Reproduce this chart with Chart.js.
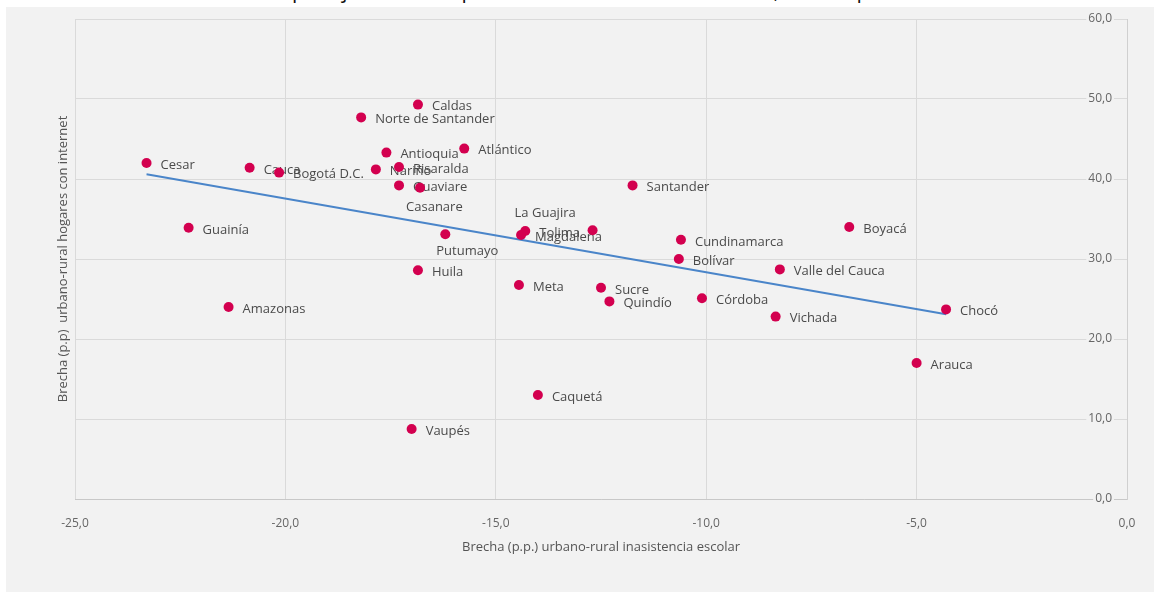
<!DOCTYPE html>
<html>
<head>
<meta charset="utf-8">
<script src="https://cdn.jsdelivr.net/npm/chart.js@4"></script>
<style>
  html, body { margin: 0; padding: 0; background: #fff; }
  #wrap { position: relative; width: 1154px; height: 592px; overflow: hidden; }
  #cut { position: absolute; left: 0; top: 0; width: 1154px; height: 7px; overflow: hidden; }
  #cut span { position: absolute; left: 14px; top: -24px; font: 21px "Open Sans", sans-serif; color: #111; white-space: nowrap; }
  canvas { position: absolute; left: 0; top: 0; }
</style>
</head>
<body>
<div id="wrap">
  <div id="cut"><span>estos indicadores se usaron para justificar en particular la inasistencia escolar, con lo que</span></div>
  <canvas id="chart" width="1154" height="592"></canvas>
</div>
<script>
// departamentos y sus brechas
const departamentos = [
  'Cesar', 'Cauca', 'Bogotá D.C.', 'Caldas', 'Norte de Santander', 'Antioquia',
  'Atlántico', 'Nariño', 'Risaralda', 'Guaviare', 'Casanare', 'Putumayo',
  'Huila', 'Guainía', 'Amazonas', 'La Guajira', 'Tolima', 'Magdalena',
  'Meta', 'Sucre', 'Quindío', 'Caquetá', 'Vaupés', 'Santander',
  'Cundinamarca', 'Bolívar', 'Córdoba', 'Valle del Cauca', 'Vichada', 'Boyacá',
  'Chocó', 'Arauca'
];
const inasistencia = [
  -23.3, -20.85, -20.15, -16.85, -18.2, -17.6,
  -15.75, -17.85, -17.3, -17.3, -16.8, -16.2,
  -16.85, -22.3, -21.35, -12.7, -14.3, -14.4,
  -14.45, -12.5, -12.3, -14.0, -17.0, -11.75,
  -10.6, -10.65, -10.1, -8.25, -8.35, -6.6,
  -4.3, -5.0
];
const internet = [
  42.0, 41.4, 40.8, 49.3, 47.7, 43.3,
  43.8, 41.2, 41.5, 39.2, 38.9, 33.1,
  28.6, 33.9, 24.0, 33.6, 33.5, 33.0,
  26.75, 26.4, 24.7, 13.0, 8.75, 39.2,
  32.4, 30.0, 25.1, 28.7, 22.8, 34.0,
  23.7, 17.0
];
// recta de ajuste (extremos leídos)
const ajusteX = [-23.3, -4.3];
const ajusteY = [40.6, 23.1];

const xTicks = [-25, -20, -15, -10, -5, 0];
const yTicks = [0, 10, 20, 30, 40, 50, 60];
const xTitle = 'Brecha (p.p.) urbano-rural inasistencia escolar';
const yTitle = 'Brecha (p.p)  urbano-rural hogares con internet';

const FONT = '"Open Sans", sans-serif';

// label offsets from the point (default right of the dot)
const labelOffsets = {
  'Casanare': [-14, 19],
  'Putumayo': [-9, 17],
  'La Guajira': [-78, -17]
};

const fmt = v => v.toFixed(1).replace('.', ',');

const bgPlugin = {
  id: 'bg',
  beforeDraw(chart) {
    const ctx = chart.ctx;
    ctx.save();
    ctx.fillStyle = '#f2f2f2';
    ctx.fillRect(6, 7, chart.width - 6, chart.height - 7);
    ctx.restore();
  }
};

const labelPlugin = {
  id: 'pointLabels',
  beforeDatasetsDraw(chart) {
    const ctx = chart.ctx;
    const meta = chart.getDatasetMeta(0);
    ctx.save();
    ctx.font = '13px ' + FONT;
    ctx.fillStyle = '#4a4a4a';
    ctx.textBaseline = 'middle';
    ctx.textAlign = 'left';
    meta.data.forEach((pt, i) => {
      const name = departamentos[i];
      const off = labelOffsets[name] || [14, 2];
      ctx.fillText(name, pt.x + off[0], pt.y + off[1]);
    });
    ctx.restore();
  }
};

const points = departamentos.map((d, i) => ({x: inasistencia[i], y: internet[i]}));
const fitLine = ajusteX.map((x, i) => ({x: x, y: ajusteY[i]}));

new Chart(document.getElementById('chart'), {
  type: 'scatter',
  data: {
    datasets: [
      {
        label: 'Departamentos',
        data: points,
        pointRadius: 5,
        pointBackgroundColor: '#d3004f',
        pointBorderWidth: 0,
        order: 0
      },
      {
        type: 'line',
        label: 'Ajuste',
        data: fitLine,
        borderColor: '#4a85c9',
        borderWidth: 2,
        pointRadius: 0,
        fill: false,
        order: 1
      }
    ]
  },
  options: {
    responsive: false,
    animation: false,
    events: [],
    layout: {padding: {top: 19, left: 0, right: 0, bottom: 0}},
    plugins: {legend: {display: false}, tooltip: {enabled: false}},
    scales: {
      x: {
        type: 'linear', position: 'bottom', min: -25, max: 0,
        afterBuildTicks: s => { s.ticks = xTicks.map(v => ({value: v})); },
        ticks: {padding: 17, color: '#666', font: {family: FONT, size: 12}, callback: v => fmt(v)},
        grid: {color: '#dadada', drawTicks: false},
        border: {color: '#c8c8c8'},
        title: {display: true, text: xTitle, color: '#555', font: {family: FONT, size: 13}, padding: {top: 0, bottom: 37}},
        afterFit: s => { s.height = 93; }
      },
      y: {
        type: 'linear', position: 'right', min: 0, max: 60,
        afterBuildTicks: s => { s.ticks = yTicks.map(v => ({value: v})); },
        ticks: {
          mirror: true, padding: -15, color: '#666', font: {family: FONT, size: 12},
          showLabelBackdrop: true, backdropColor: '#f2f2f2', backdropPadding: {x: 2, y: 0},
          callback: v => fmt(v)
        },
        grid: {color: '#dadada', drawTicks: false},
        border: {color: '#d0d0d0'},
        afterFit: s => { s.width = 27; }
      },
      yt: {
        type: 'linear', position: 'left', min: 0, max: 60,
        ticks: {display: false},
        grid: {display: false, drawTicks: false},
        border: {display: false},
        title: {display: true, text: yTitle, color: '#555', font: {family: FONT, size: 13}, padding: {top: 55, bottom: 0}},
        afterFit: s => { s.width = 75; }
      }
    }
  },
  plugins: [bgPlugin, labelPlugin]
});
</script>
</body>
</html>
